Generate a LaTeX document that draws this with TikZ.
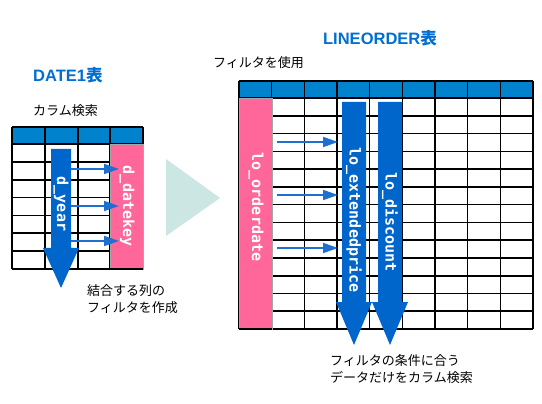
\documentclass[tikz,border=0pt]{standalone}
\usepackage{fontspec}
\setmainfont{Liberation Sans}
\newfontfamily\jp{Noto Sans CJK JP}
\newfontfamily\colmono{DejaVu Sans Mono}
\usetikzlibrary{arrows.meta}
\definecolor{hdrblue}{RGB}{0,130,204}
\definecolor{arrblue}{RGB}{0,102,204}
\definecolor{smallblue}{RGB}{30,111,208}
\definecolor{pinkcol}{RGB}{255,102,153}
\definecolor{teal}{RGB}{204,230,228}
\definecolor{titleblue}{RGB}{0,110,210}
\tikzset{
  gridline/.style={black,line width=1.6pt},
  hdrfill/.style={fill=hdrblue},
  pinkbox/.style={fill=pinkcol,draw=gray!70,line width=0.6pt},
  bigarrow/.style={fill=arrblue},
  smallarrow/.style={smallblue,line width=1.8pt,-{Triangle[length=15pt,width=10pt]}},
  collabel/.style={text=white,font=\colmono\bfseries\fontsize{15}{18}\selectfont,rotate=-90,inner sep=0pt},
  jptext/.style={font=\jp\fontsize{13}{16.5}\selectfont,align=left,inner sep=0pt,anchor=west},
  titletext/.style={font=\bfseries\fontsize{16.5}{20}\selectfont,text=titleblue,inner sep=0pt}
}
\begin{document}
\begin{tikzpicture}[x=1pt,y=-1pt]
\useasboundingbox (0,0) rectangle (542,404);

% ---------- DATE1 table ----------
\node[titletext,anchor=west] (t1) at (33,75) {DATE1{\jp 表}};
\node[jptext] (s1) at (33,111) {カラム検索};
\fill[hdrfill] (12,127) rectangle (143,144);
\foreach \i in {0,...,7} {
  \draw[gridline] (12,{144+\i*17.857}) -- (143,{144+\i*17.857});
}
\draw[gridline] (12,127) -- (143,127);
\foreach \x in {12,45,78,110,143} {
  \draw[gridline] (\x,127) -- (\x,269);
}
\fill[pinkbox] (110,144) rectangle (143,269);
\draw[gridline] (110,269) -- (143,269);
\node[collabel] (dk) at (127,206) {d\_datekey};
% d_year arrow
\fill[bigarrow] (51,149) -- (71,149) -- (71,248) -- (79,248) -- (61,288) -- (43,248) -- (51,248) -- cycle;
\node[collabel] (dy) at (61,204) {d\_year};
\foreach \y/\n in {169/a,206/b,241/c} {
  \coordinate (ds\n) at (71,\y);
  \coordinate (de\n) at (119,\y);
  \draw[smallarrow] (ds\n) -- (de\n);
}
\node[jptext] (n1) at (87,299) {結合する列の\\フィルタを作成};

% ---------- middle triangle ----------
\fill[teal] (166,159) -- (220,198) -- (166,236) -- cycle;

% ---------- LINEORDER table ----------
\node[titletext] (t2) at (380,38.5) {LINEORDER{\jp 表}};
\node[jptext] (s2) at (213,63) {フィルタを使用};
\fill[hdrfill] (239,81) rectangle (533,98);
\draw[gridline] (239,81) -- (533,81);
\foreach \i in {0,...,13} {
  \draw[gridline] (239,{98+\i*17.77}) -- (533,{98+\i*17.77});
}
\foreach \i in {0,...,9} {
  \draw[gridline] ({239+\i*32.667},81) -- ({239+\i*32.667},329);
}
\fill[pinkbox] (239,98) rectangle (272,329);
\draw[gridline] (239,329) -- (272,329);
\node[collabel] (od) at (256,207) {lo\_orderdate};
% big arrows
\fill[bigarrow] (342,102) -- (366,102) -- (366,302) -- (372,302) -- (354,345) -- (336,302) -- (342,302) -- cycle;
\fill[bigarrow] (378,102) -- (402,102) -- (402,302) -- (408,302) -- (390,345) -- (372,302) -- (378,302) -- cycle;
\node[collabel] (ep) at (354,220) {lo\_extendedprice};
\node[collabel] (dc) at (390,222) {lo\_discount};
\foreach \y/\n in {142/a,195/b,248/c} {
  \coordinate (ls\n) at (277,\y);
  \coordinate (le\n) at (338,\y);
  \draw[smallarrow] (ls\n) -- (le\n);
}
\node[jptext] (n2) at (330,369) {フィルタの条件に合う\\データだけをカラム検索};
\end{tikzpicture}
\end{document}
